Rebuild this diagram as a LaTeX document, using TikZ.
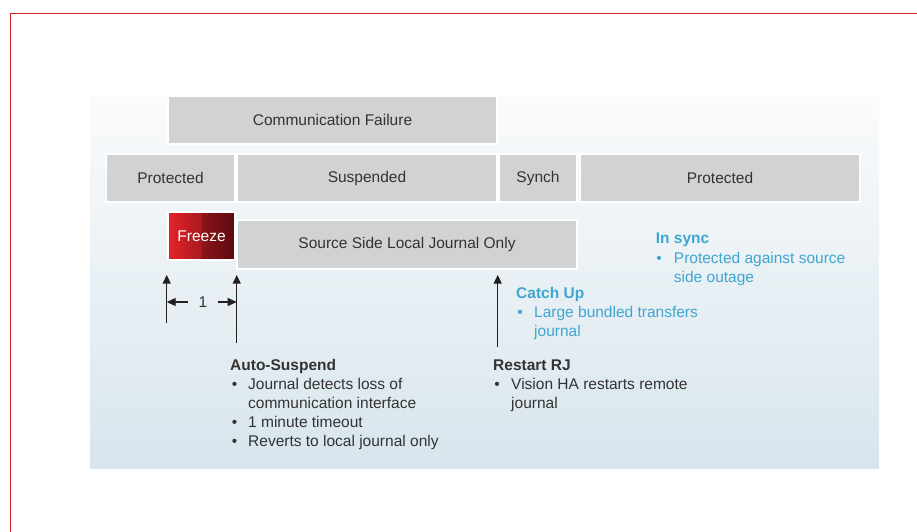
\documentclass[tikz,border=0pt]{standalone}
\usepackage{fontspec}
\setmainfont{Liberation Sans}
\usetikzlibrary{arrows.meta}
\definecolor{boxgray}{HTML}{D1D2D4}
\definecolor{txt}{HTML}{333333}
\definecolor{arrowc}{HTML}{231F20}
\definecolor{cyanblue}{HTML}{3EA7D1}
\definecolor{frameRed}{HTML}{DA1F2B}
\definecolor{panelTop}{HTML}{FAFBFC}
\definecolor{panelBot}{HTML}{D8E5ED}
\definecolor{frzA}{HTML}{E6232A}
\definecolor{frzB}{HTML}{A8191F}
\definecolor{frzC}{HTML}{8C1519}
\definecolor{frzD}{HTML}{590A0F}
\begin{document}
\begin{tikzpicture}[x=1pt,y=-1pt,
  font=\fontsize{15.5}{19}\selectfont,
  graybox/.style={draw=white, line width=1.2pt, fill=boxgray, text=txt, inner sep=0, minimum height=48pt},
  lbl/.style={anchor=base west, inner sep=0, text=txt},
  blbl/.style={anchor=base west, inner sep=0, text=cyanblue},
  bul/.style={anchor=base, inner sep=0, text=txt},
  bbul/.style={anchor=base, inner sep=0, text=cyanblue},
  arr/.style={draw=arrowc, line width=1.1pt, -{Triangle[length=8.5pt,width=8pt]}},
  sarr/.style={draw=arrowc, line width=1.1pt, -{Triangle[length=9pt,width=8pt]}}]
\useasboundingbox (0,0) rectangle (917,531);
\fill[white] (0,0) rectangle (917,531);
\draw[frameRed, line width=1.3pt] (10.5,13.5) rectangle (940,560);
\shade[top color=panelTop, bottom color=panelBot] (90,96) rectangle (879,468);

% top rows
\node[graybox, minimum width=329pt] (comm) at (332.5,120) {Communication Failure};
\node[graybox, minimum width=129pt] (prot1) at (170.5,178) {Protected};
\node[graybox, minimum width=260pt] (susp) at (367,178) {Suspended};
\node[graybox, minimum width=78pt] (synch) at (538,178) {Synch};
\node[graybox, minimum width=280pt] (prot2) at (720,178) {Protected};
\node[graybox, minimum width=340pt, minimum height=49pt] (src) at (407,244.5) {Source Side Local Journal Only};

% freeze
\shade[left color=frzA, right color=frzB] (168,212) rectangle (202,260);
\shade[left color=frzC, right color=frzD] (202,212) rectangle (235,260);
\node[draw=white, line width=1.2pt, minimum width=67pt, minimum height=48pt, inner sep=0, text=white] (freeze) at (201.5,236) {Freeze};

% arrows
\coordinate (a1s) at (166.7,323);
\coordinate (a1e) at (166.7,275);
\coordinate (a2s) at (236.7,343);
\coordinate (a2e) at (236.7,275);
\coordinate (a3s) at (497.7,347);
\coordinate (a3e) at (497.7,275);
\draw[arr] (a1s) -- (a1e);
\draw[arr] (a2s) -- (a2e);
\draw[arr] (a3s) -- (a3e);

% one-minute dimension
\node[inner sep=0, text=txt] (one) at (203,302) {1};
\coordinate (d1) at (187.5,302);
\coordinate (d2) at (218,302);
\draw[sarr] (d1) -- (a1s |- one);
\draw[sarr] (d2) -- (a2s |- one);

% Auto-Suspend
\node[lbl, font=\fontsize{15.5}{19}\selectfont\bfseries] (as0) at (230,370) {Auto-Suspend};
\node[bul] (asb1) at (234.7,389) {\textbullet};
\node[lbl] (as1) at (248,389) {Journal detects loss of};
\node[lbl] (as2) at (248,408) {communication interface};
\node[bul] (asb3) at (234.7,427) {\textbullet};
\node[lbl] (as3) at (248,427) {1 minute timeout};
\node[bul] (asb4) at (234.7,446) {\textbullet};
\node[lbl] (as4) at (248,446) {Reverts to local journal only};

% Restart RJ
\node[lbl, font=\fontsize{15.5}{19}\selectfont\bfseries] (rj0) at (493,370) {Restart RJ};
\node[bul] (rjb1) at (497,389) {\textbullet};
\node[lbl] (rj1) at (511,389) {Vision HA restarts remote};
\node[lbl] (rj2) at (511,408) {journal};

% Catch Up
\node[blbl, font=\fontsize{15.5}{19}\selectfont\bfseries] (cu0) at (516,298) {Catch Up};
\node[bbul] (cub1) at (520,317) {\textbullet};
\node[blbl] (cu1) at (534,317) {Large bundled transfers};
\node[blbl] (cu2) at (534,336) {journal};

% In sync
\node[blbl, font=\fontsize{15.5}{19}\selectfont\bfseries] (is0) at (655.7,243.5) {In sync};
\node[bbul] (isb1) at (659,263.5) {\textbullet};
\node[blbl] (is1) at (673.7,263.5) {Protected against source};
\node[blbl] (is2) at (673.7,282.5) {side outage};
\end{tikzpicture}
\end{document}
